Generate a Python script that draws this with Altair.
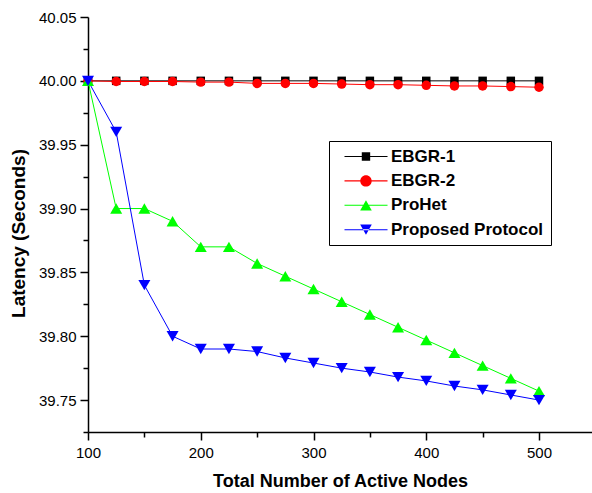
import altair as alt
import pandas as pd

nodes = [100, 125, 150, 175, 200, 225, 250, 275, 300, 325, 350, 375, 400, 425, 450, 475, 500]
ebgr1 = [40.0, 40.0, 40.0, 40.0, 40.0, 40.0, 40.0, 40.0, 40.0, 40.0, 40.0, 40.0, 40.0, 40.0, 40.0, 40.0, 40.0]
ebgr2 = [40.0, 39.9995, 39.9995, 39.9995, 39.999, 39.999, 39.998, 39.998, 39.998, 39.9975, 39.997, 39.997,
         39.9965, 39.996, 39.996, 39.9955, 39.995]
prohet = [40.0, 39.90, 39.90, 39.89, 39.87, 39.87, 39.857, 39.847, 39.837, 39.827, 39.817, 39.807,
          39.797, 39.787, 39.777, 39.767, 39.757]
proposed = [40.0, 39.96, 39.84, 39.80, 39.79, 39.79, 39.788, 39.783, 39.779, 39.775, 39.772, 39.768,
            39.765, 39.761, 39.758, 39.754, 39.75]

series_names = ["EBGR-1", "EBGR-2", "ProHet", "Proposed Protocol"]
series_colors = ["#000000", "#FF0000", "#00FF00", "#0000FF"]
series_shapes = ["square", "circle", "triangle-up", "triangle-down"]
series_sizes = [72, 90, 144, 144]

x_ticks = [100, 150, 200, 250, 300, 350, 400, 450, 500]
y_ticks = [39.725, 39.75, 39.775, 39.8, 39.825, 39.85, 39.875, 39.9, 39.925, 39.95, 39.975, 40.0, 40.025, 40.05]

# legend symbols: thin bar (line) with marker, as filled custom paths
bar = "M0,-0.09H7.17V0.09H0Z"
legend_paths = [
    bar + "M2.88,-0.7H4.28V0.7H2.88Z",
    bar + "M2.63,0C2.63,-0.525 3.055,-0.95 3.58,-0.95C4.105,-0.95 4.53,-0.525 4.53,0"
          "C4.53,0.525 4.105,0.95 3.58,0.95C3.055,0.95 2.63,0.525 2.63,0Z",
    bar + "M3.58,-0.85L4.55,0.85L2.61,0.85Z",
    bar + "M3.58,0.85L4.55,-0.85L2.61,-0.85Z",
]

rows = []
for name, vals in zip(series_names, [ebgr1, ebgr2, prohet, proposed]):
    for n, v in zip(nodes, vals):
        rows.append({"nodes": n, "latency": v, "series": name})
df = pd.DataFrame(rows)

x_enc = alt.X(
    "nodes:Q",
    scale=alt.Scale(domain=[100, 547], nice=False, zero=False),
    axis=alt.Axis(
        title="Total Number of Active Nodes",
        values=x_ticks,
        labelExpr="datum.value % 100 === 0 ? format(datum.value, 'd') : ''",
        tickSize={"condition": {"test": "datum.value % 100 === 0", "value": 8}, "value": 5},
        labelPadding=5,
        labelFlush=False,
        titlePadding=12,
    ),
)
y_enc = alt.Y(
    "latency:Q",
    scale=alt.Scale(domain=[39.725, 40.05], nice=False, zero=False),
    axis=alt.Axis(
        title="Latency (Seconds)",
        values=y_ticks,
        labelExpr="abs(datum.value*20 - round(datum.value*20)) < 1e-6 ? format(datum.value, '.2f') : ''",
        tickSize={"condition": {"test": "abs(datum.value*20 - round(datum.value*20)) < 1e-6", "value": 8},
                  "value": 5},
        labelPadding=4,
        labelFlush=False,
        titlePadding=10,
        titleFontSize=19,
        titleY=216,
    ),
)

line_layers = []
point_layers = []
for name, col, shp, sz in zip(series_names, series_colors, series_shapes, series_sizes):
    base = alt.Chart(df).transform_filter(alt.datum.series == name)
    line_layers.append(base.mark_line(strokeWidth=1, color=col).encode(x=x_enc, y=y_enc))
    point_layers.append(
        base.mark_point(filled=True, opacity=1, shape=shp, size=sz, color=col).encode(x=x_enc, y=y_enc)
    )

leg = alt.Legend(
    title=None,
    orient="none",
    legendX=241,
    legendY=124,
    labelFont="Liberation Sans",
    labelFontSize=17,
    labelFontWeight="bold",
    labelColor="black",
    labelLimit=400,
    labelOffset=38,
    symbolSize=144,
    symbolStrokeWidth=0,
    rowPadding=6.4,
    padding=7,
    strokeColor="black",
    fillColor="white",
)

legend_layer = (
    alt.Chart(df)
    .transform_filter(alt.datum.nodes > 10000)
    .mark_point(filled=True, opacity=1)
    .encode(
        x=x_enc, y=y_enc,
        color=alt.Color("series:N", scale=alt.Scale(domain=series_names, range=series_colors), legend=leg),
        shape=alt.Shape("series:N", scale=alt.Scale(domain=series_names, range=legend_paths), legend=leg),
    )
)

chart = (
    alt.layer(*line_layers, *point_layers, legend_layer)
    .properties(
        width=504,
        height=415,
        padding={"left": 88, "top": 17, "right": 0, "bottom": 61},
        autosize=alt.AutoSizeParams(type="none"),
        background="white",
    )
    .configure_view(stroke=None)
    .configure_axis(
        grid=False,
        domainColor="black",
        domainWidth=1.5,
        tickColor="black",
        tickWidth=1.5,
        labelFont="Liberation Sans",
        labelFontSize=15,
        labelColor="black",
        titleFont="Liberation Sans",
        titleFontSize=18,
        titleFontWeight="bold",
        titleColor="black",
    )
)

chart.save("out.html", embed_options={"renderer": "svg", "actions": False})
